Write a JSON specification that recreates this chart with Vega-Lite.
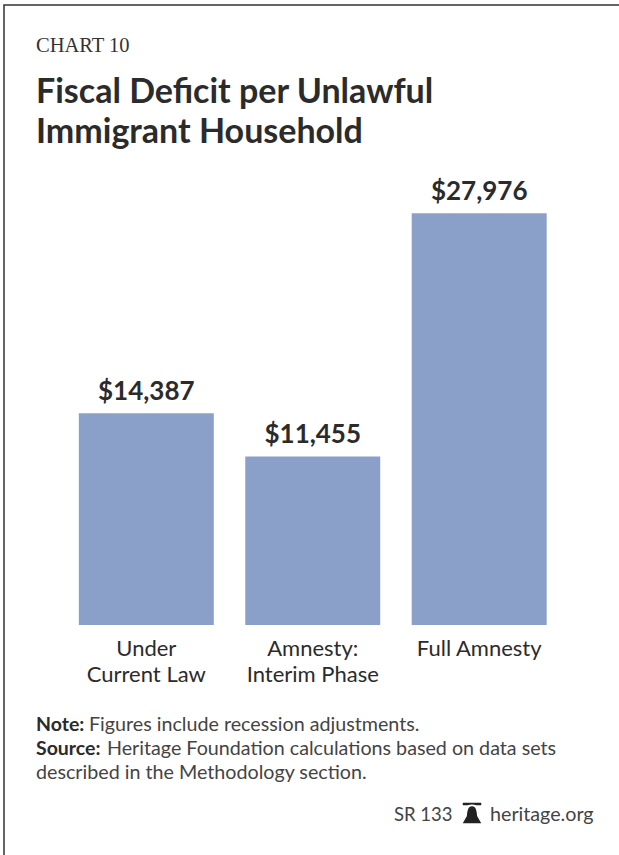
{
  "$schema": "https://vega.github.io/schema/vega-lite/v6.json",
  "width": 640,
  "height": 860,
  "padding": {"left": 4, "top": 5, "right": 0, "bottom": 0},
  "autosize": {"type": "none"},
  "background": "white",
  "view": {"stroke": "#333333", "strokeWidth": 1.5, "fill": "white"},
  "title": {
    "text": "CHART 10",
    "subtitle": ["Fiscal Deficit per Unlawful", "Immigrant Household"],
    "anchor": "start",
    "frame": "group",
    "orient": "top",
    "offset": -145,
    "dx": 32,
    "font": "Liberation Serif",
    "fontSize": 20.5,
    "fontWeight": "normal",
    "color": "#333333",
    "subtitleFont": "Lato",
    "subtitleFontSize": 34,
    "subtitleFontWeight": "bold",
    "subtitleColor": "#2b2b2b",
    "subtitleLineHeight": 40,
    "subtitlePadding": 20
  },
  "datasets": {
    "deficit": [
      {"scenario": "Under Current Law", "deficit": 14387},
      {"scenario": "Amnesty: Interim Phase", "deficit": 11455},
      {"scenario": "Full Amnesty", "deficit": 27976}
    ]
  },
  "data": {"name": "deficit"},
  "layer": [
    {
      "mark": {"type": "bar", "color": "#8BA0C9"},
      "encoding": {
        "x": {
          "field": "scenario",
          "type": "nominal",
          "sort": null,
          "scale": {"range": [59, 558.5], "paddingInner": 0.189, "paddingOuter": 0.095},
          "axis": {
            "title": null,
            "domain": false,
            "ticks": false,
            "offset": -240,
            "labelAngle": 0,
            "labelFont": "Lato",
            "labelFontSize": 22,
            "labelColor": "#2b2b2b",
            "labelPadding": 13,
            "labelLineHeight": 26,
            "labelBaseline": "top",
            "labelExpr": "datum.label == 'Under Current Law' ? ['Under', 'Current Law'] : datum.label == 'Amnesty: Interim Phase' ? ['Amnesty:', 'Interim Phase'] : datum.label"
          }
        },
        "y": {
          "field": "deficit",
          "type": "quantitative",
          "scale": {"domain": [0, 27976], "range": [620, 208]},
          "axis": null
        }
      }
    },
    {
      "mark": {"type": "text", "baseline": "bottom", "dy": -8, "font": "Lato", "fontWeight": "bold", "fontSize": 26, "color": "#2b2b2b"},
      "encoding": {
        "x": {"field": "scenario", "type": "nominal", "sort": null},
        "y": {"field": "deficit", "type": "quantitative"},
        "text": {"field": "deficit", "type": "quantitative", "format": "$,d"}
      }
    },
    {
      "data": {"values": [{"line": "Note:"}]},
      "mark": {"type": "text", "x": 32, "y": 720, "align": "left", "baseline": "middle", "font": "Lato", "fontSize": 19.5, "fontWeight": "bold", "color": "#2b2b2b"},
      "encoding": {"text": {"field": "line"}}
    },
    {
      "data": {"values": [{"line": "Figures include recession adjustments."}]},
      "mark": {"type": "text", "x": 85, "y": 720, "align": "left", "baseline": "middle", "font": "Lato", "fontSize": 19.7, "color": "#444444"},
      "encoding": {"text": {"field": "line"}}
    },
    {
      "data": {"values": [{"line": "Source:"}]},
      "mark": {"type": "text", "x": 32, "y": 744, "align": "left", "baseline": "middle", "font": "Lato", "fontSize": 19.5, "fontWeight": "bold", "color": "#2b2b2b"},
      "encoding": {"text": {"field": "line"}}
    },
    {
      "data": {"values": [{"line": "Heritage Foundation calculations based on data sets"}]},
      "mark": {"type": "text", "x": 103, "y": 744, "align": "left", "baseline": "middle", "font": "Lato", "fontSize": 19.7, "color": "#444444"},
      "encoding": {"text": {"field": "line"}}
    },
    {
      "data": {"values": [{"line": "described in the Methodology section."}]},
      "mark": {"type": "text", "x": 32, "y": 768, "align": "left", "baseline": "middle", "font": "Lato", "fontSize": 19.7, "color": "#444444"},
      "encoding": {"text": {"field": "line"}}
    },
    {
      "data": {"values": [{"line": "SR 133"}]},
      "mark": {"type": "text", "x": 390, "y": 810, "align": "left", "baseline": "middle", "font": "Lato", "fontSize": 18.5, "color": "#444444"},
      "encoding": {"text": {"field": "line"}}
    },
    {
      "data": {"values": [{"line": "heritage.org"}]},
      "mark": {"type": "text", "x": 486, "y": 810, "align": "left", "baseline": "middle", "font": "Lato", "fontSize": 19.7, "color": "#444444"},
      "encoding": {"text": {"field": "line"}}
    },
    {
      "data": {"values": [{"icon": "bell"}]},
      "mark": {
        "type": "point",
        "x": 468,
        "y": 808,
        "filled": true,
        "opacity": 1,
        "size": 420,
        "color": "#222222",
        "shape": "M-0.9,-1 L0.9,-1 L0.9,-0.75 L0.45,-0.75 C0.15,-0.85 -0.15,-0.85 -0.45,-0.75 L-0.9,-0.75 Z M0,-0.65 C0.4,-0.65 0.45,-0.2 0.5,0.3 L0.9,1 L-0.9,1 L-0.5,0.3 C-0.45,-0.2 -0.4,-0.65 0,-0.65 Z"
      },
      "encoding": {}
    }
  ]
}
